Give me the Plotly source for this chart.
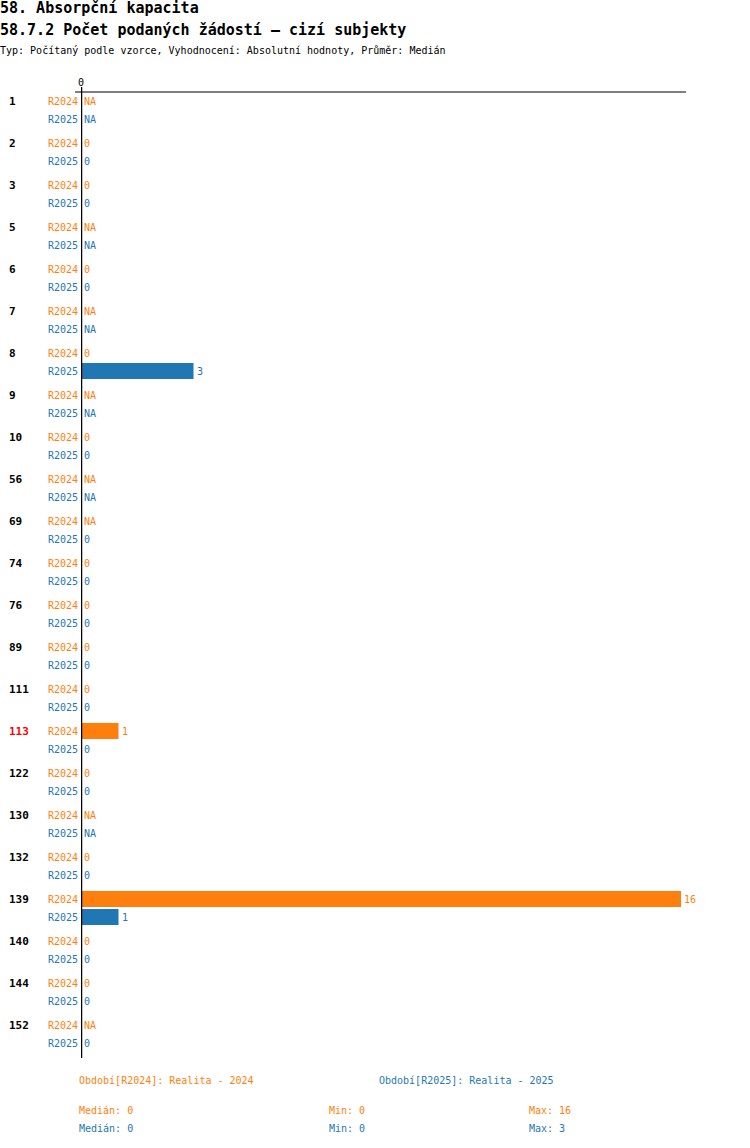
import plotly.graph_objects as go
import statistics

# data
groups = ['1', '2', '3', '5', '6', '7', '8', '9', '10', '56', '69', '74', '76',
          '89', '111', '113', '122', '130', '132', '139', '140', '144', '152']
r2024 = [None, 0, 0, None, 0, None, 0, None, 0, None, None, 0, 0,
         0, 0, 1, 0, None, 0, 16, 0, 0, None]
r2025 = [None, 0, 0, None, 0, None, 3, None, 0, None, 0, 0, 0,
         0, 0, 0, 0, None, 0, 1, 0, 0, 0]
series_names = ['R2024', 'R2025']
series_labels = ['Realita - 2024', 'Realita - 2025']
highlight = '113'

orange = '#ff7f0e'
blue = '#1f77b4'
colors = [orange, blue]
font = 'DejaVu Sans Mono'

# pixel layout (page body margin is removed below)
W, H = 750, 1148
left, right, top, bottom = 81, 64, 92, 90
plot_w = W - left - right
plot_h = H - top - bottom
px_per_unit = 37.5
group_step, row_step, first_row = 42, 18, 9

fig = go.Figure()
annotations = []

for s, vals in enumerate([r2024, r2025]):
    ys = [first_row + g * group_step + s * row_step for g in range(len(groups))]
    fig.add_trace(go.Bar(
        x=[v if v is not None else 0 for v in vals], y=ys, orientation='h',
        width=16, marker=dict(color=colors[s], line=dict(width=0)),
        hoverinfo='skip', showlegend=False))
    for v, y in zip(vals, ys):
        annotations.append(dict(
            x=v if v is not None else 0, xref='x', y=y, yref='y',
            text='NA' if v is None else str(v), xanchor='left', xshift=1,
            showarrow=False, font=dict(family=font, size=10, color=colors[s])))
        annotations.append(dict(
            x=0, xref='paper', y=y, yref='y', text=series_names[s],
            xanchor='right', xshift=-1, showarrow=False,
            font=dict(family=font, size=10, color=colors[s])))

for g, name in enumerate(groups):
    annotations.append(dict(
        x=0, xref='paper', y=first_row + g * group_step, yref='y',
        text='<b>%s</b>' % name, xanchor='left', xshift=-74, showarrow=False,
        font=dict(family=font, size=11, color='red' if name == highlight else 'black')))

# zero tick on top
annotations.append(dict(x=0, xref='x', y=1, yref='paper', text='0', yanchor='bottom',
                        yshift=2, showarrow=False, font=dict(family=font, size=10, color='black')))

# titles
titles = [('<b>58. Absorpční kapacita</b>', 15, 8),
          ('<b>58.7.2 Počet podaných žádostí – cizí subjekty</b>', 15, 30),
          ('Typ: Počítaný podle vzorce, Vyhodnocení: Absolutní hodnoty, Průměr: Medián', 10, 50)]
for txt, size, ypx in titles:
    annotations.append(dict(x=0, xref='paper', xshift=-left - 2, xanchor='left',
                            y=1 + (top - ypx) / plot_h, yref='paper', yanchor='middle',
                            text=txt, showarrow=False,
                            font=dict(family=font, size=size, color='black')))

# legend and stats under the chart
legend_x = [77, 377]
for s, vals in enumerate([r2024, r2025]):
    annotations.append(dict(x=(legend_x[s] - left) / plot_w, xref='paper', xanchor='left',
                            y=-(1080 - top - plot_h) / plot_h, yref='paper', yanchor='middle',
                            text='Období[%s]: %s' % (series_names[s], series_labels[s]),
                            showarrow=False, font=dict(family=font, size=10, color=colors[s])))
    nums = [v for v in vals if v is not None]
    stats = [('Medián: %g' % statistics.median(nums), 77),
             ('Min: %g' % min(nums), 327),
             ('Max: %g' % max(nums), 527)]
    for txt, xp in stats:
        annotations.append(dict(x=(xp - left) / plot_w, xref='paper', xanchor='left',
                                y=-(1110 + s * 18 - top - plot_h) / plot_h, yref='paper',
                                yanchor='middle', text=txt, showarrow=False,
                                font=dict(family=font, size=10, color=colors[s])))

shapes = [
    dict(type='line', xref='paper', yref='paper', x0=-6 / plot_w, x1=1, y0=1, y1=1,
         line=dict(color='black', width=1)),
    dict(type='line', xref='x', yref='paper', x0=0, x1=0, y0=0, y1=1 + 5 / plot_h,
         line=dict(color='black', width=2.5)),
]

fig.update_layout(
    width=W, height=H, margin=dict(l=left, r=right, t=top, b=bottom),
    plot_bgcolor='white', paper_bgcolor='white', barmode='overlay',
    xaxis=dict(range=[0, plot_w / px_per_unit], visible=False, fixedrange=True),
    yaxis=dict(range=[plot_h, 0], visible=False, fixedrange=True),
    annotations=annotations, shapes=shapes,
)

fig.write_html("out.html", config={'displayModeBar': False},
               post_script="document.body.style.margin='0px';")
